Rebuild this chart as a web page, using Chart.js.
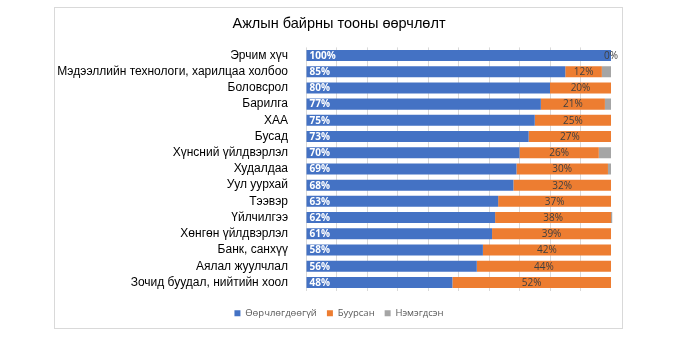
<!DOCTYPE html>
<html>
<head>
<meta charset="utf-8">
<script src="https://cdn.jsdelivr.net/npm/chart.js@4/dist/chart.umd.min.js"></script>
<style>
    html, body { margin: 0; padding: 0; background: #fff; }
    #wrap { position: relative; width: 686px; height: 351px; }
</style>
</head>
<body>
<div id="wrap"><canvas id="chart" width="686" height="351"></canvas></div>
<script>
const categories = [
    'Эрчим хүч',
    'Мэдээллийн технологи, харилцаа холбоо',
    'Боловсрол',
    'Барилга',
    'ХАА',
    'Бусад',
    'Хүнсний үйлдвэрлэл',
    'Худалдаа',
    'Уул уурхай',
    'Тээвэр',
    'Үйлчилгээ',
    'Хөнгөн үйлдвэрлэл',
    'Банк, санхүү',
    'Аялал жуулчлал',
    'Зочид буудал, нийтийн хоол'
];
const unchanged = [100, 85, 80, 77, 75, 73, 70, 69, 68, 63, 62, 61, 58, 56, 48];
const decreased = [0, 12, 20, 21, 25, 27, 26, 30, 32, 37, 38, 39, 42, 44, 52];
const increased = [0, 3, 0, 2, 0, 0, 4, 1, 0, 0, 0.4, 0, 0, 0, 0];
const seriesNames = ['Өөрчлөгдөөгүй', 'Буурсан', 'Нэмэгдсэн'];

// frame around the whole chart, like the office chart area
const framePlugin = {
    id: 'frame',
    beforeDraw(chart) {
        const ctx = chart.ctx;
        ctx.save();
        ctx.strokeStyle = '#d9d9d9';
        ctx.lineWidth = 1;
        ctx.strokeRect(54.5, 7.5, 568, 321);
        ctx.restore();
    }
};

// value labels: white at the bar start for the first series, centred for the second
const valueLabels = {
    id: 'valueLabels',
    afterDatasetsDraw(chart) {
        const ctx = chart.ctx;
        ctx.save();
        ctx.textBaseline = 'middle';
        const m0 = chart.getDatasetMeta(0);
        ctx.font = 'bold 10px "Open Sans"';
        ctx.fillStyle = '#ffffff';
        ctx.textAlign = 'left';
        m0.data.forEach((bar, i) => {
            ctx.fillText(unchanged[i] + '%', bar.base + 3, bar.y + 0.5);
        });
        const m1 = chart.getDatasetMeta(1);
        ctx.font = '10px "Open Sans"';
        ctx.fillStyle = '#404040';
        ctx.textAlign = 'center';
        m1.data.forEach((bar, i) => {
            ctx.fillText(decreased[i] + '%', (bar.x + bar.base) / 2, bar.y + 0.5);
        });
        ctx.restore();
    }
};

new Chart(document.getElementById('chart'), {
    type: 'bar',
    data: {
        labels: categories,
        datasets: [
            { label: seriesNames[0], data: unchanged, backgroundColor: '#4472c4' },
            { label: seriesNames[1], data: decreased, backgroundColor: '#ed7d31' },
            { label: seriesNames[2], data: increased, backgroundColor: '#a5a5a5' }
        ]
    },
    options: {
        indexAxis: 'y',
        responsive: false,
        animation: false,
        layout: { padding: { left: 54, right: 62, top: 7, bottom: 23 } },
        datasets: {
            bar: { categoryPercentage: 1, barPercentage: 0.68, borderWidth: 0 }
        },
        scales: {
            x: {
                stacked: true,
                min: 0,
                max: 104.26, // leaves the blank strip right of 100% inside the frame
                afterFit(scale) { scale.height += 8; },
                ticks: { display: false, stepSize: 10 },
                grid: {
                    color: (c) => (c.tick && c.tick.value % 10 === 0 && c.tick.value <= 100) ? '#d9d9d9' : 'rgba(0,0,0,0)',
                    drawTicks: false
                },
                border: { display: false }
            },
            y: {
                stacked: true,
                afterFit(scale) { scale.width = 252; },
                ticks: {
                    color: '#000000',
                    padding: 10,
                    autoSkip: false,
                    font: { family: '"Liberation Sans", Arial, sans-serif', size: 12 }
                },
                grid: { display: false },
                border: { display: false }
            }
        },
        plugins: {
            title: {
                display: true,
                text: 'Ажлын байрны тооны өөрчлөлт',
                color: '#000000',
                font: { family: '"Liberation Sans", Arial, sans-serif', size: 14.5, weight: 'normal' },
                padding: { top: 8, bottom: 15 }
            },
            legend: {
                position: 'bottom',
                labels: {
                    boxWidth: 6,
                    boxHeight: 6,
                    color: '#595959',
                    padding: 10,
                    font: { family: '"Open Sans", sans-serif', size: 9.5 }
                }
            },
            tooltip: { enabled: false }
        }
    },
    plugins: [framePlugin, valueLabels]
});
</script>
</body>
</html>
